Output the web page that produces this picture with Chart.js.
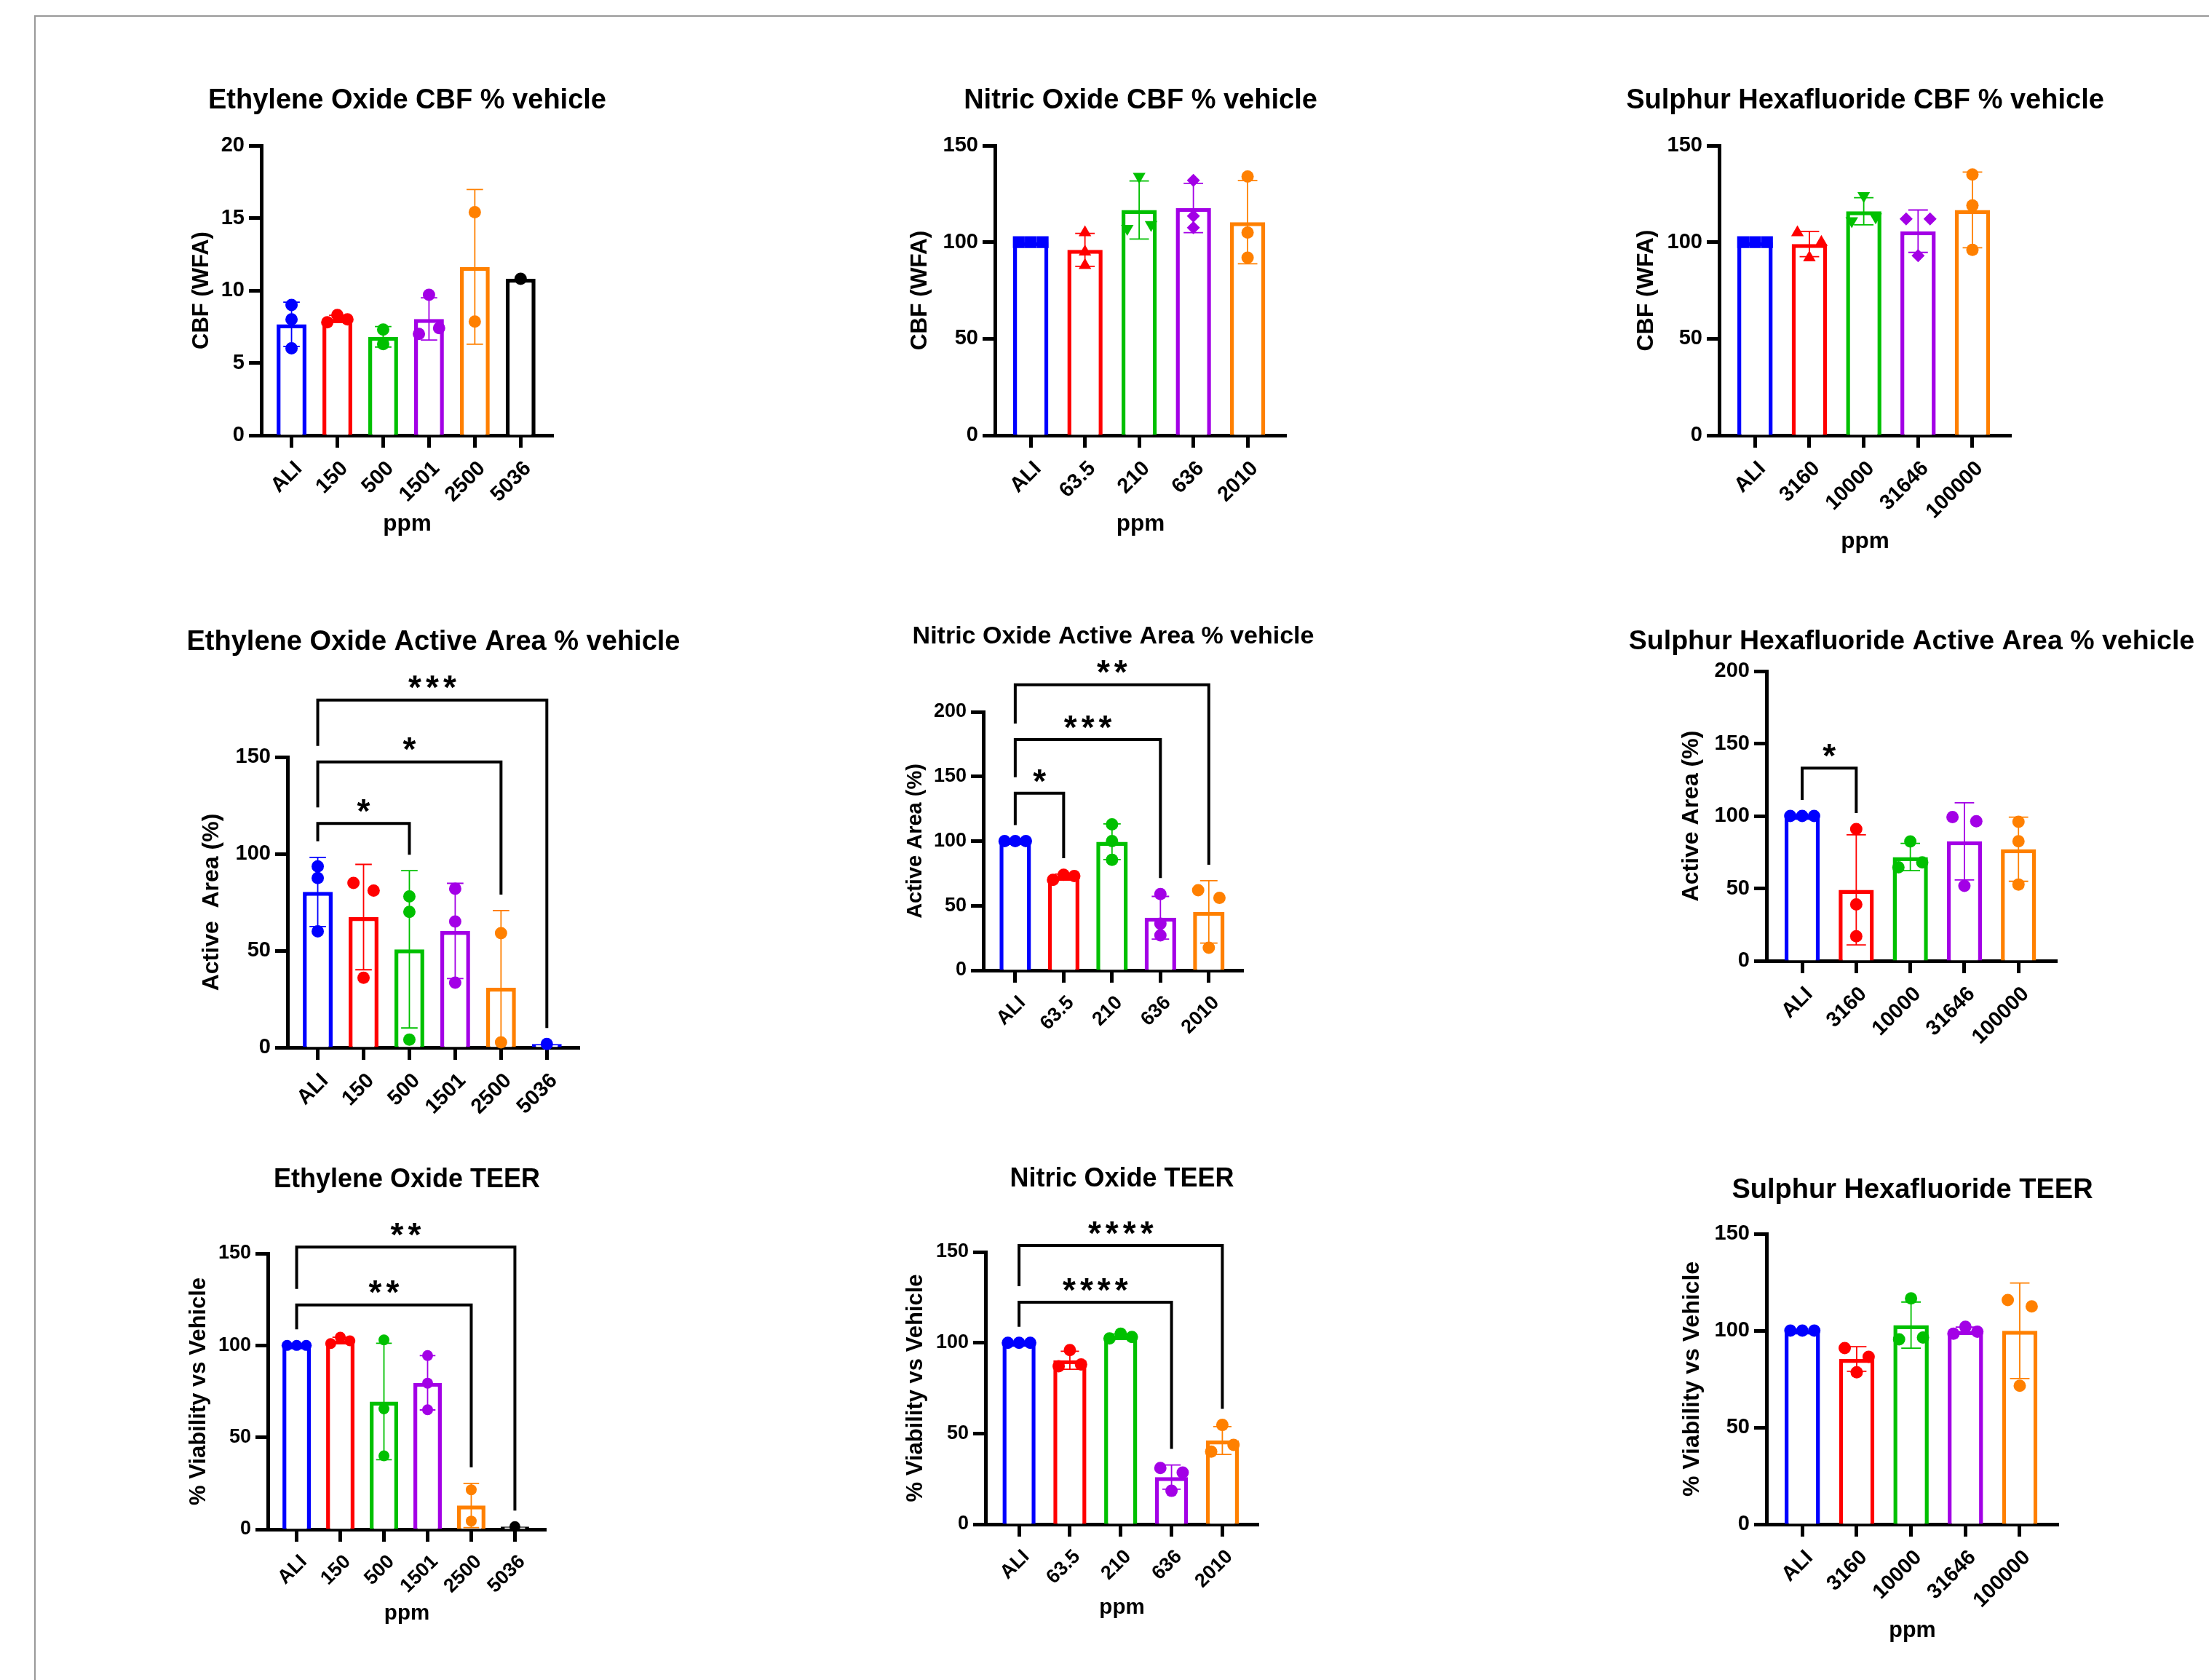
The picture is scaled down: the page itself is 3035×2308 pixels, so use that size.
<!DOCTYPE html>
<html>
<head>
<meta charset="utf-8">
<title>CBF, active area and TEER after gas exposure</title>
<script src="https://cdn.jsdelivr.net/npm/chart.js@4.4.1/dist/chart.umd.min.js"></script>
<style>
  html, body { margin: 0; padding: 0; background: #fff; }
  body { position: relative; width: 3035px; height: 2308px; overflow: hidden; }
  #frame { position: absolute; left: 47px; top: 21px; width: 3100px; height: 2400px;
           border-top: 2px solid #999; border-left: 2px solid #999; }
  canvas { position: absolute; }
</style>
</head>
<body>
<div id="frame"></div>
<script>
// dose groups (ppm)
const eoDoses = ['ALI', '150', '500', '1501', '2500', '5036'];
const noDoses = ['ALI', '63.5', '210', '636', '2010'];
const sfDoses = ['ALI', '3160', '10000', '31646', '100000'];

// replicates per dose group
// (when points collide they are spread left to right in this order)
const eoCbf = [[9.0, 8.0, 6.0], [7.8, 8.3, 8.0], [7.3, 6.3], [9.7, 7.0, 7.4], [15.4, 7.85], [10.8]];
const noCbf = [[100, 100, 100], [105, 95, 88], [134, 107, 109], [132, 113.5, 107.5], [134, 105, 92]];
const sfCbf = [[100, 100, 100], [105, 100, 92], [124, 111, 113], [112, 112, 93], [135, 119, 96]];

const eoArea = [[93.5, 87.5, 60], [85, 81, 36], [78, 70, 4], [82, 65, 33.5], [59, 2.6], [1.8]];
const noArea = [[100, 100, 100], [70, 74, 73], [113, 100, 85.5], [59, 36, 27], [62, 56, 17.5]];
const sfArea = [[100, 100, 100], [91, 39, 17], [82.4, 64.6, 68], [99.3, 96.4, 51.8], [96, 82.5, 52.7]];

const eoTeer = [[100, 100, 100], [101, 104.5, 102.5], [103, 65.5, 40], [94.5, 79.5, 65], [21.5, 4.5], [1.5]];
const noTeer = [[100, 100, 100], [96, 87, 88], [102.4, 105, 103.2], [31, 28.5, 18.4], [54.7, 40, 43.7]];
const sfTeer = [[100, 100, 100], [91, 86.5, 78.5], [116.6, 95.5, 96.4], [98.4, 102, 99.4], [115.8, 112.5, 71.5]];

// significance brackets: [from group, to group, bracket level, stars]
const eoAreaSig = [[0, 2, 115.7, '*'], [0, 4, 147.5, '*'], [0, 5, 179.4, '***']];
const noAreaSig = [[0, 1, 137, '*'], [0, 3, 178.6, '***'], [0, 4, 221, '**']];
const sfAreaSig = [[0, 1, 133, '*']];
const eoTeerSig = [[0, 4, 122, '**'], [0, 5, 153.5, '**']];
const noTeerSig = [[0, 3, 122.3, '****'], [0, 4, 153.6, '****']];

// colours
const BLUE = '#0000ff', RED = '#ff0000', GREEN = '#00c000', PURPLE = '#a300e6', ORANGE = '#ff8000', BLACK = '#000000';
const eoColors = [BLUE, RED, GREEN, PURPLE, ORANGE, BLACK];
const eoAreaColors = [BLUE, RED, GREEN, PURPLE, ORANGE, BLUE];
const gasColors = [BLUE, RED, GREEN, PURPLE, ORANGE];
// [pointStyle, rotation, radius] for the CBF panels of NO and SF6
const shapeSet = [['rect', 0, 11.5], ['triangle', 0, 10], ['triangle', 180, 10], ['rectRot', 0, 9], ['circle', 0, 8.5]];

const FONT = "'Liberation Sans', Arial, Helvetica, sans-serif";
Chart.defaults.font.family = FONT;
Chart.defaults.font.weight = 'bold';
Chart.defaults.color = '#000';

const OVERLAP_PX = 14.5;  // points closer than this get spread sideways
const SPREAD = 0.22;      // sideways step, in category widths

function groupStats(vals) {
  const n = vals.length;
  const mean = vals.reduce((a, b) => a + b, 0) / n;
  const sd = n > 1 ? Math.sqrt(vals.reduce((a, v) => a + (v - mean) ** 2, 0) / (n - 1)) : 0;
  return { mean: mean, sd: sd, top: Math.max(mean + sd, ...vals) };
}

// GraphPad-like scatter: overlapping replicates are put side by side
function spread(vals, pxPerUnit) {
  const idx = vals.map((v, i) => i).sort((a, b) => vals[a] - vals[b]);
  const clusters = [];
  let cur = [idx[0]];
  for (let k = 1; k < idx.length; k++) {
    if ((vals[idx[k]] - vals[idx[k - 1]]) * pxPerUnit < OVERLAP_PX) cur.push(idx[k]);
    else { clusters.push(cur); cur = [idx[k]]; }
  }
  clusters.push(cur);
  const offs = vals.map(() => 0);
  clusters.forEach(c => {
    if (c.length < 2) return;
    c.sort((a, b) => a - b);
    const slots = c.length === 2 ? [-1, 1] : c.map((_, j) => j - (c.length - 1) / 2);
    c.forEach((i, j) => { offs[i] = slots[j] * SPREAD; });
  });
  return offs;
}

// panel title, centred over the plot area
const panelTitle = {
  id: 'panelTitle',
  afterDraw(chart, args, opts) {
    const { ctx, chartArea } = chart;
    ctx.save();
    ctx.font = `bold ${opts.size}px ${FONT}`;
    ctx.fillStyle = '#000';
    ctx.textAlign = 'center';
    ctx.textBaseline = 'alphabetic';
    ctx.fillText(opts.text, (chartArea.left + chartArea.right) / 2, opts.y);
    ctx.restore();
  }
};

// significance brackets with stars
const sigBrackets = {
  id: 'sigBrackets',
  afterDraw(chart, args, opts) {
    if (!opts.list || !opts.list.length) return;
    const { ctx } = chart;
    const xs = chart.scales.x, ys = chart.scales.y;
    const sorted = opts.list.slice().sort((a, b) => a[2] - b[2]);
    let prev = null;
    ctx.save();
    ctx.strokeStyle = '#000';
    ctx.lineWidth = 4;
    ctx.lineJoin = 'miter';
    ctx.fillStyle = '#000';
    ctx.font = `bold ${opts.starSize}px ${FONT}`;
    ctx.textAlign = 'center';
    ctx.textBaseline = 'alphabetic';
    if ('letterSpacing' in ctx) ctx.letterSpacing = '6px';
    sorted.forEach(([from, to, level, label]) => {
      const xa = xs.getPixelForValue(from), xb = xs.getPixelForValue(to);
      const yl = ys.getPixelForValue(level);
      const leftEnd = (prev !== null ? prev : ys.getPixelForValue(opts.tops[from])) - opts.gap;
      const rightEnd = ys.getPixelForValue(opts.tops[to]) - opts.gap;
      ctx.beginPath();
      ctx.moveTo(xa, leftEnd);
      ctx.lineTo(xa, yl);
      ctx.lineTo(xb, yl);
      ctx.lineTo(xb, rightEnd);
      ctx.stroke();
      ctx.fillText(label, (xa + xb) / 2 + 3, yl - 28 + 0.58 * opts.starSize);
      prev = yl;
    });
    ctx.restore();
  }
};

const panels = [
  { values: eoCbf, labels: eoDoses, colors: eoColors, yMax: 20, yStep: 5,
    title: 'Ethylene Oxide CBF % vehicle', yTitle: 'CBF (WFA)', xTitle: 'ppm',
    box: [359, 200, 760, 598], titleBase: 149, titleSize: 38, yTitleX: 278, axisSize: 31,
    xTitleBase: 731, xTitleSize: 31.5, tickSize: 29 },
  { values: noCbf, labels: noDoses, colors: gasColors, shapes: true, yMax: 150, yStep: 50,
    title: 'Nitric Oxide CBF % vehicle', yTitle: 'CBF (WFA)', xTitle: 'ppm',
    box: [1367, 200, 1767, 598], titleBase: 149, titleSize: 38, yTitleX: 1264, axisSize: 31.5,
    xTitleBase: 731, xTitleSize: 31.5, tickSize: 29 },
  { values: sfCbf, labels: sfDoses, colors: gasColors, shapes: true, yMax: 150, yStep: 50,
    title: 'Sulphur Hexafluoride CBF % vehicle', yTitle: 'CBF (WFA)', xTitle: 'ppm',
    box: [2362, 200, 2763, 598], titleBase: 149, titleSize: 38, yTitleX: 2262, axisSize: 32,
    xTitleBase: 755, xTitleSize: 31.5, tickSize: 29 },
  { values: eoArea, labels: eoDoses, colors: eoAreaColors, yMax: 150, yStep: 50, sig: eoAreaSig,
    title: 'Ethylene Oxide Active Area % vehicle', yTitle: 'Active  Area (%)',
    box: [395, 1040, 796, 1439], titleBase: 893, titleSize: 38, yTitleX: 291, axisSize: 32, tickSize: 29 },
  { values: noArea, labels: noDoses, colors: gasColors, yMax: 200, yStep: 50, sig: noAreaSig,
    title: 'Nitric Oxide Active Area % vehicle', yTitle: 'Active Area (%)',
    box: [1351, 978, 1708, 1333], titleBase: 884, titleSize: 34, yTitleX: 1258, axisSize: 29, tickSize: 27 },
  { values: sfArea, labels: sfDoses, colors: gasColors, yMax: 200, yStep: 50, sig: sfAreaSig,
    title: 'Sulphur Hexafluoride Active Area % vehicle', yTitle: 'Active Area (%)',
    box: [2427, 922, 2826, 1320], titleBase: 892, titleSize: 37.5, yTitleX: 2324, axisSize: 32, tickSize: 29 },
  { values: eoTeer, labels: eoDoses, colors: eoColors, yMax: 150, yStep: 50, sig: eoTeerSig,
    title: 'Ethylene Oxide TEER', yTitle: '% Viability vs Vehicle', xTitle: 'ppm',
    box: [368, 1722, 750, 2101], titleBase: 1631, titleSize: 36, yTitleX: 274, axisSize: 31,
    xTitleBase: 2228, xTitleSize: 29.5, tickSize: 27, dot: 7.5 },
  { values: noTeer, labels: noDoses, colors: gasColors, yMax: 150, yStep: 50, sig: noTeerSig,
    title: 'Nitric Oxide TEER', yTitle: '% Viability vs Vehicle', xTitle: 'ppm',
    box: [1354, 1720, 1729, 2094], titleBase: 1630, titleSize: 36, yTitleX: 1259, axisSize: 31,
    xTitleBase: 2220, xTitleSize: 29.5, tickSize: 27 },
  { values: sfTeer, labels: sfDoses, colors: gasColors, yMax: 150, yStep: 50,
    title: 'Sulphur Hexafluoride TEER', yTitle: '% Viability vs Vehicle', xTitle: 'ppm',
    box: [2427, 1695, 2828, 2094], titleBase: 1646, titleSize: 38, yTitleX: 2325, axisSize: 32,
    xTitleBase: 2251, xTitleSize: 30.5, tickSize: 29 }
];

function drawPanel(p) {
  const n = p.labels.length;
  const [L, T, R, B] = p.box;
  const padL = 80, padR = 210;
  const yW = Math.round(L - p.yTitleX + 0.6 * p.axisSize);
  const xH = p.xTitle ? Math.round(p.xTitleBase + 0.2535 * p.xTitleSize - B) : 135;
  const left = L - yW - padL;
  const top = p.titleBase - 60;
  const padTop = T - top;
  const width = padL + yW + (R - L) + padR;
  const height = padTop + (B - T) + xH;

  const canvas = document.createElement('canvas');
  canvas.width = width;
  canvas.height = height;
  canvas.style.left = left + 'px';
  canvas.style.top = top + 'px';
  canvas.style.width = width + 'px';
  canvas.style.height = height + 'px';
  document.body.appendChild(canvas);

  const stats = p.values.map(groupStats);
  const pxPerUnit = (B - T) / p.yMax;
  const cap = 0.18;
  const datasets = [];

  // open bars at the group mean
  datasets.push({
    type: 'bar',
    data: stats.map((s, i) => ({ x: i, y: s.mean })),
    backgroundColor: '#ffffff',
    borderColor: p.colors,
    borderWidth: 5.5,
    barPercentage: 0.65,
    categoryPercentage: 1,
    order: 3
  });

  // mean +/- SD error bars
  stats.forEach((s, i) => {
    if (s.sd === 0) return;
    const hi = s.mean + s.sd, lo = s.mean - s.sd;
    datasets.push({
      type: 'line',
      data: [
        { x: i - cap, y: hi }, { x: i + cap, y: hi }, { x: i, y: null },
        { x: i, y: hi }, { x: i, y: lo }, { x: i, y: null },
        { x: i - cap, y: lo }, { x: i + cap, y: lo }
      ],
      borderColor: p.colors[i],
      borderWidth: 1.8,
      pointRadius: 0,
      pointHitRadius: 0,
      fill: false,
      spanGaps: false,
      order: 2
    });
  });

  // individual replicates
  p.values.forEach((vals, i) => {
    const offs = spread(vals, pxPerUnit);
    const shape = p.shapes ? shapeSet[i] : ['circle', 0, p.dot || 8.5];
    datasets.push({
      type: 'scatter',
      data: vals.map((v, k) => ({ x: i + offs[k], y: v })),
      pointStyle: shape[0],
      pointRotation: shape[1],
      pointRadius: shape[2],
      pointBackgroundColor: p.colors[i],
      pointBorderColor: p.colors[i],
      pointBorderWidth: 0,
      clip: false,
      order: 1
    });
  });

  new Chart(canvas, {
    type: 'bar',
    data: { datasets: datasets },
    options: {
      responsive: false,
      animation: false,
      devicePixelRatio: 1,
      events: [],
      layout: { autoPadding: false, padding: { left: padL, right: padR, top: padTop, bottom: 0 } },
      plugins: {
        legend: { display: false },
        tooltip: { enabled: false },
        panelTitle: { text: p.title, size: p.titleSize, y: p.titleBase - top },
        sigBrackets: { list: p.sig || [], tops: stats.map(s => s.top), gap: 22, starSize: 46 }
      },
      scales: {
        x: {
          type: 'linear',
          min: -0.66,
          max: n - 0.29,
          offset: false,
          z: 1,
          afterBuildTicks: axis => { axis.ticks = p.labels.map((_, i) => ({ value: i })); },
          afterFit: axis => { axis.height = xH; },
          grid: { offset: false, drawOnChartArea: false, tickLength: 17, tickWidth: 5, tickColor: '#000' },
          border: { color: '#000', width: 5 },
          ticks: {
            autoSkip: false, minRotation: 45, maxRotation: 45, padding: 12, labelOffset: 10,
            color: '#000', font: { size: p.tickSize, weight: 'bold' },
            callback: v => p.labels[v]
          },
          title: {
            display: !!p.xTitle, text: p.xTitle || '', padding: 0, color: '#000',
            font: { size: p.xTitleSize || 30, weight: 'bold' }
          }
        },
        y: {
          min: 0,
          max: p.yMax,
          z: 1,
          afterFit: axis => { axis.width = yW; },
          grid: { drawOnChartArea: false, tickLength: 17, tickWidth: 5, tickColor: '#000' },
          border: { color: '#000', width: 5 },
          ticks: { stepSize: p.yStep, padding: 6, color: '#000', font: { size: p.tickSize, weight: 'bold' } },
          title: {
            display: true, text: p.yTitle, padding: 0, color: '#000',
            font: { size: p.axisSize, weight: 'bold' }
          }
        }
      }
    },
    plugins: [panelTitle, sigBrackets]
  });
}

panels.forEach(drawPanel);
</script>
</body>
</html>
